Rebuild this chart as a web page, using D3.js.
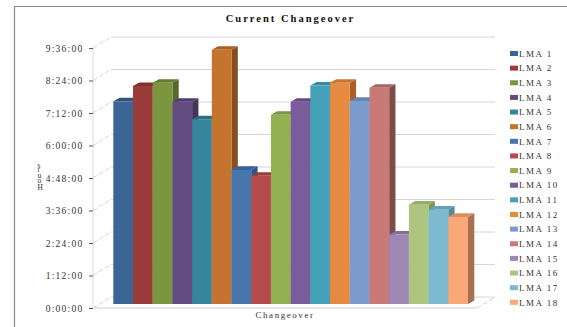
<!DOCTYPE html>
<html>
<head>
<meta charset="utf-8">
<script src="https://cdnjs.cloudflare.com/ajax/libs/d3/7.8.5/d3.min.js"></script>
<style>
html,body{margin:0;padding:0;background:#fff}
svg{display:block}
text{font-family:"Liberation Serif",serif;fill:#333}
</style>
</head>
<body>
<svg id="chart" width="567" height="327"></svg>
<script>
// Changeover duration per line, as h:mm:ss
const categories = ["LMA 1","LMA 2","LMA 3","LMA 4","LMA 5","LMA 6","LMA 7","LMA 8","LMA 9","LMA 10","LMA 11","LMA 12","LMA 13","LMA 14","LMA 15","LMA 16","LMA 17","LMA 18"];
const durations = ["7:29:00","8:03:00","8:10:00","7:28:00","6:49:00","9:23:00","4:57:00","4:44:00","6:59:00","7:28:00","8:04:00","8:10:00","7:30:00","7:59:00","2:34:00","3:40:00","3:29:00","3:13:00"];
const colors = ["#3b6595","#9a3c3a","#7a963f","#634c80","#37859c","#c4742f","#4776ad","#b54c49","#93b053","#7a5c9c","#45a0b9","#e58a3e","#7a9bcb","#c97a78","#9c87b5","#aec57f","#7cbad0","#f9a877"];
const sideColors = ["#274a70","#6f2a28","#55692b","#46345b","#246071","#85501f","#2c5583","#843432","#688039","#553f70","#2e7488","#a86229","#56729a","#804a48","#6f5a88","#7f9457","#548b9f","#a87050"];
const topColors = ["#2e547e","#81302e","#647c32","#513d6b","#2b6f83","#a85f22","#38639a","#983c39","#7b9644","#644a84","#358ba3","#c97430","#6485b2","#a96462","#836e9c","#95ad68","#63a2b8","#d98f5f"];
const tickHours = [0,1.2,2.4,3.6,4.8,6,7.2,8.4,9.6];
const tickLabels = ["0:00:00","1:12:00","2:24:00","3:36:00","4:48:00","6:00:00","7:12:00","8:24:00","9:36:00"];
const chartTitle = "Current Changeover";
const xTitle = "Changeover";
const yTitle = "Hours";

const toHours = s => { const [h,m,t] = s.split(":").map(Number); return h + m/60 + t/3600; };

const svg = d3.select("#chart");

// chart frame, running off the right and bottom of the page
svg.append("path").attr("d","M14.5 327V6.5H567").attr("fill","none").attr("stroke","#8a8a8a").attr("stroke-width",1.2);

svg.append("text").attr("x",290.5).attr("y",22).attr("text-anchor","middle")
  .attr("font-size",10.5).attr("font-weight","bold").attr("letter-spacing",2).style("fill","#111").text(chartTitle);

// oblique projection of the chart box
const wall = {dx:18, dy:-11};
const y = d3.scaleLinear().domain([0,9.6]).range([308,48]);
const plotFront = 93;
const plotWidth = 384;

// back wall and side wall gridlines
const grid = svg.append("g");
grid.selectAll("path.wallline").data(tickHours).join("path").attr("class","wallline")
  .attr("d",d=>`M${plotFront+wall.dx} ${y(d)+wall.dy}H${plotFront+plotWidth+wall.dx}`)
  .attr("fill","none").attr("stroke","#d6d6d6").attr("stroke-width",1.2);
grid.selectAll("path.sideline").data(tickHours).join("path").attr("class","sideline")
  .attr("d",d=>`M${plotFront} ${y(d)}l${wall.dx} ${wall.dy}`)
  .attr("fill","none").attr("stroke","#d6d6d6").attr("stroke-width",1).attr("stroke-dasharray","5 2");
grid.append("path")
  .attr("d",`M${plotFront} ${y(0)}V${y(9.6)}`)
  .attr("fill","none").attr("stroke","#dcdcdc").attr("stroke-width",1);
grid.append("path")
  .attr("d",`M${plotFront} ${y(0)}H${plotFront+plotWidth}`)
  .attr("fill","none").attr("stroke","#d0d0d0").attr("stroke-width",1.2);
grid.append("path")
  .attr("d",`M${plotFront+plotWidth} ${y(0)}l${wall.dx} ${wall.dy}`)
  .attr("fill","none").attr("stroke","#cfcfcf").attr("stroke-width",1).attr("stroke-dasharray","5 2");

// value axis
const axis = d3.axisLeft(y).tickValues(tickHours).tickFormat((d,i)=>tickLabels[i]).tickSize(4).tickPadding(5.5);
const axisG = svg.append("g").attr("transform",`translate(${plotFront},0)`).call(axis);
axisG.select(".domain").remove();
axisG.selectAll(".tick line").attr("stroke","#555");
axisG.selectAll(".tick text").attr("font-size",9.5).attr("letter-spacing",1.25).attr("font-family","Liberation Serif");

// bars
const bandX = d3.scaleBand().domain(categories).range([113.3,468]).padding(0);
const barBase = 304;
const barY = d3.scaleLinear().domain([0,9.6]).range([barBase,barBase-260]);
const depth = {dx:6.3, dy:-3.6};
const bars = svg.append("g").selectAll("g").data(categories).join("g");
bars.append("path").attr("fill",(d,i)=>sideColors[i])
  .attr("d",(d,i)=>{const x=bandX(d)+bandX.bandwidth(),t=barY(toHours(durations[i]));
    return `M${x} ${t}l${depth.dx} ${depth.dy}V${barBase+depth.dy}L${x} ${barBase}Z`;});
bars.append("path").attr("fill",(d,i)=>topColors[i])
  .attr("d",(d,i)=>{const x=bandX(d),w=bandX.bandwidth(),t=barY(toHours(durations[i]));
    return `M${x} ${t}l${depth.dx} ${depth.dy}h${w}l${-depth.dx} ${-depth.dy}Z`;});
bars.append("rect").attr("fill",(d,i)=>colors[i])
  .attr("x",d=>bandX(d)).attr("width",bandX.bandwidth())
  .attr("y",(d,i)=>barY(toHours(durations[i])))
  .attr("height",(d,i)=>barBase-barY(toHours(durations[i])));

svg.append("text").attr("x",285).attr("y",318).attr("text-anchor","middle")
  .attr("font-size",9).attr("letter-spacing",1.55).text(xTitle);

// axis title: runs bottom to top with each glyph kept upright
svg.append("text").attr("transform","translate(37.5,190) rotate(-90)")
  .attr("rotate",90).attr("font-size",7.5).attr("letter-spacing",1.6).text(yTitle);

// legend
const legendY = d3.scalePoint().domain(categories).range([53.5,302.3]);
const legend = svg.append("g").selectAll("g").data(categories).join("g")
  .attr("transform",d=>`translate(510,${legendY(d)})`);
legend.append("rect").attr("y",-2.5).attr("width",8).attr("height",5).attr("fill",(d,i)=>colors[i]);
legend.append("text").attr("x",9).attr("y",3.2).attr("font-size",9).attr("letter-spacing",1.5).text(d=>d);
</script>
</body>
</html>
